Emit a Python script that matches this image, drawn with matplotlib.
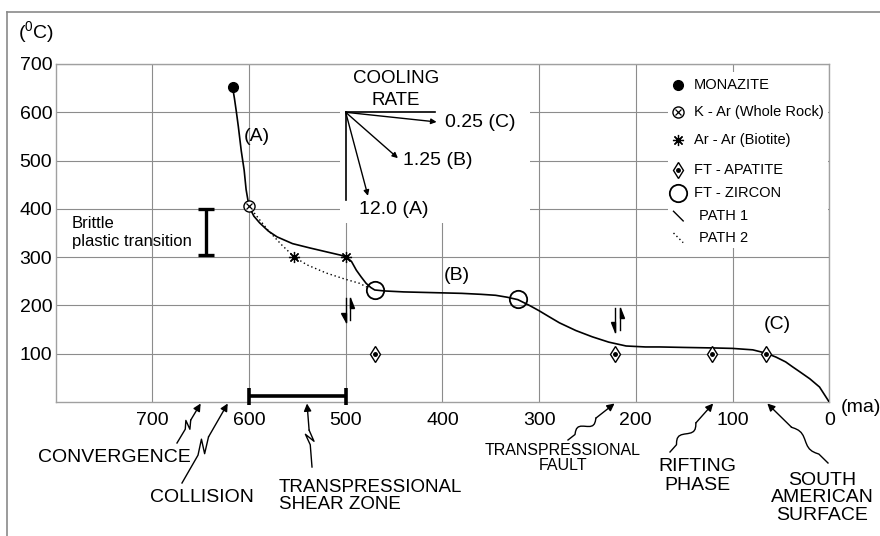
import numpy as np
import matplotlib
matplotlib.use('Agg')
import matplotlib.pyplot as plt
from matplotlib.lines import Line2D
from matplotlib.patches import Rectangle, Polygon

plt.rcParams['font.family'] = ['Liberation Sans', 'DejaVu Sans']
plt.rcParams['mathtext.fontset'] = 'custom'
plt.rcParams['mathtext.rm'] = 'Liberation Sans'
plt.rcParams['mathtext.default'] = 'regular'

# ---- data (age in ma, temperature in degC) ----
x_ticks = [700, 600, 500, 400, 300, 200, 100, 0]
y_ticks = [100, 200, 300, 400, 500, 600, 700]

path1_ma = [617, 615, 613, 611, 608, 605, 603, 600, 595, 589, 580, 571, 555, 537,
            520, 505, 499, 494, 489, 484, 479, 474, 470, 460, 440, 420, 400, 380,
            360, 345, 333, 322, 310, 300, 290, 279, 262, 245, 228, 210, 190, 175,
            150, 121, 100, 79, 65, 55, 45, 38, 30, 20, 10, 0]
path1_temp = [652, 628, 600, 570, 520, 480, 440, 405, 385, 371, 354, 342, 328, 319,
              311, 304, 300, 291, 273, 259, 246, 237, 232, 230, 228, 227, 226, 225,
              223, 221, 217, 212, 200, 189, 177, 164, 148, 135, 124, 116, 114, 114,
              113, 112, 111, 108, 101, 93, 83, 73, 62, 48, 31, 0]

path2_ma = [600, 592, 580, 566, 553, 540, 520, 500, 486, 478]
path2_temp = [405, 385, 355, 325, 300, 284, 267, 254, 246, 238]

monazite_ma = [617]
monazite_temp = [652]
kar_ma = [600]
kar_temp = [405]
arar_ma = [553, 500]
arar_temp = [300, 300]
apatite_ma = [470, 222, 121, 65]
apatite_temp = [100, 100, 100, 100]
zircon_ma = [470, 322]
zircon_temp = [232, 213]

cooling_labels = ['0.25 (C)', '1.25 (B)', '12.0 (A)']
cooling_end_ma = [406, 446, 477]
cooling_end_temp = [580, 505, 427]
cooling_label_ma = [397, 441, 486]
cooling_label_temp = [578, 501, 398]

path_labels = ['(A)', '(B)', '(C)']
path_label_ma = [592, 385, 54]
path_label_temp = [549, 263, 160]

fault_ma = [498, 219]
fault_temp = [190, 170]

events = ['CONVERGENCE', 'COLLISION', 'TRANSPRESSIONAL\nSHEAR ZONE',
          'TRANSPRESSIONAL\nFAULT', 'RIFTING\nPHASE', 'SOUTH\nAMERICAN\nSURFACE']
event_ages = [650, 622, 540, 222, 120, 64]

legend_labels = ['MONAZITE', 'K - Ar (Whole Rock)', 'Ar - Ar (Biotite)',
                 'FT - APATITE', 'FT - ZIRCON', 'PATH 1', 'PATH 2']

W, H = 880, 536
fig = plt.figure(figsize=(W / 100, H / 100), dpi=100)
ax = fig.add_axes([55.6 / W, 134 / H, 773.6 / W, 338 / H])
ax.set_xlim(800, 0)
ax.set_ylim(0, 700)
ax.set_xticks(x_ticks)
ax.set_yticks(y_ticks)
ax.set_xticklabels([str(v) for v in x_ticks])
ax.set_yticklabels([str(v) for v in y_ticks])
ax.tick_params(axis='both', length=0, labelsize=14, colors='black')
ax.tick_params(axis='x', pad=7)
ax.tick_params(axis='y', pad=2.5)
ax.grid(True, color='#8c8c8c', lw=0.8)
ax.set_axisbelow(True)
for sp in ax.spines.values():
    sp.set_color('#a0a0a0')
    sp.set_linewidth(1)

# white boxes behind the cooling-rate sketch and the legend
ax.add_patch(Rectangle((309, 371), 197, 340, facecolor='white', edgecolor='none', zorder=1))
ax.add_patch(Rectangle((1, 319), 166, 364, facecolor='white', edgecolor='none', zorder=1))

# paths
ax.plot(path1_ma, path1_temp, color='black', lw=1.2, zorder=3)
ax.plot(path2_ma, path2_temp, color='black', lw=1, ls=(0, (1, 2)), zorder=3)


def draw_markers(xs, ys, kind, clip=True):
    kw = dict(ls='none', color='black', zorder=4, clip_on=clip)
    if kind == 'monazite':
        ax.plot(xs, ys, marker='o', ms=7, **kw)
    elif kind == 'kar':
        ax.plot(xs, ys, marker='o', ms=8, mfc='white', mew=1, **kw)
        ax.plot(xs, ys, marker='x', ms=4.5, mew=0.9, **kw)
    elif kind == 'arar':
        ax.plot(xs, ys, marker=(8, 2, 0), ms=8, mew=0.9, **kw)
    elif kind == 'apatite':
        ax.plot(xs, ys, marker='d', ms=8, mfc='white', mew=1, **kw)
        ax.plot(xs, ys, marker='o', ms=2.5, **kw)
    elif kind == 'zircon':
        ax.plot(xs, ys, marker='o', ms=12.5, mfc='none', mew=1.3, **kw)


draw_markers(monazite_ma, monazite_temp, 'monazite')
draw_markers(kar_ma, kar_temp, 'kar')
draw_markers(arar_ma, arar_temp, 'arar')
draw_markers(apatite_ma, apatite_temp, 'apatite')
draw_markers(zircon_ma, zircon_temp, 'zircon')

# path labels
for lab, xm, yt in zip(path_labels, path_label_ma, path_label_temp):
    ax.text(xm, yt, lab, fontsize=14, ha='center', va='center', zorder=5)

# cooling rate sketch
ax.plot([500, 408], [600, 600], color='black', lw=1.2, zorder=3)
ax.plot([500, 500], [600, 418], color='black', lw=1.2, zorder=3)
for lab, xe, ye, xl, yl in zip(cooling_labels, cooling_end_ma, cooling_end_temp,
                               cooling_label_ma, cooling_label_temp):
    ax.annotate('', xy=(xe, ye), xytext=(500, 600),
                arrowprops=dict(arrowstyle='-|>', color='black', lw=1,
                                mutation_scale=8, shrinkA=0, shrinkB=0), zorder=3)
    ax.text(xl, yl, lab, fontsize=14, ha='left', va='center', zorder=5)
ax.text(448, 671, 'COOLING', fontsize=13.5, ha='center', va='center')
ax.text(448, 624, 'RATE', fontsize=13.5, ha='center', va='center')

# brittle-plastic transition bar
ax.plot([644.5, 644.5], [305, 399], color='black', lw=2.4, solid_capstyle='butt')
ax.plot([653, 636], [399, 399], color='black', lw=2.4, solid_capstyle='butt')
ax.plot([653, 636], [305, 305], color='black', lw=2.4, solid_capstyle='butt')
ax.text(783, 352, 'Brittle\nplastic transition', fontsize=12, ha='left', va='center',
        linespacing=1.25)

# shear zone bar on the time axis
ax.plot([600, 500], [13, 13], color='black', lw=2.6, clip_on=False, zorder=5,
        solid_capstyle='butt')
for xb in [600, 500]:
    ax.plot([xb, xb], [-6, 29], color='black', lw=2.6, clip_on=False, zorder=5,
            solid_capstyle='butt')


# strike-slip symbols
def fault_symbol(x, y):
    dx, h, head, hw = 2.2, 25, 20, 4.5
    xl, xr = x + dx, x - dx
    ax.plot([xl, xl], [y - h, y + h], color='black', lw=1, zorder=4)
    ax.plot([xr, xr], [y - h + 4, y + h], color='black', lw=1, zorder=4)
    ax.add_patch(Polygon([[xl, y - h], [xl, y - h + head], [xl + hw, y - h + head]],
                         closed=True, color='black', zorder=4))
    ax.add_patch(Polygon([[xr, y + h], [xr, y + h - head], [xr - hw, y + h - head]],
                         closed=True, color='black', zorder=4))


for fx, fy in zip(fault_ma, fault_temp):
    fault_symbol(fx, fy)

# legend (drawn by hand)
leg_mx, leg_tx = 156, 140
leg_y = [657, 600, 543, 481, 433, 385, 340]
draw_markers([leg_mx], [leg_y[0]], 'monazite', clip=False)
draw_markers([leg_mx], [leg_y[1]], 'kar', clip=False)
draw_markers([leg_mx], [leg_y[2]], 'arar', clip=False)
draw_markers([leg_mx], [leg_y[3]], 'apatite', clip=False)
draw_markers([leg_mx], [leg_y[4]], 'zircon', clip=False)
ax.plot([161, 151], [leg_y[5] + 10, leg_y[5] - 10], color='black', lw=1)
ax.plot([161, 151], [leg_y[6] + 10, leg_y[6] - 10], color='black', lw=1, ls=(0, (1, 2)))
for i, lab in enumerate(legend_labels):
    tx = leg_tx if i < 5 else leg_tx - 5
    ax.text(tx, leg_y[i], lab, fontsize=10.5, ha='left', va='center', zorder=5)


# event annotations below the time axis
def px(x, y):
    return np.array([x / W, 1 - y / H])


def squiggle_arrow(start, age, amp, wavy=False):
    tip_disp = ax.transData.transform((age, 0))
    tip = np.array([tip_disp[0] / W, (tip_disp[1] - 1.5) / H])
    s = px(*start)
    d = tip - s
    # work in pixel units for the perpendicular offset
    dp = np.array([d[0] * W, d[1] * H])
    u = dp / np.hypot(*dp)
    n = np.array([-u[1], u[0]])
    off = np.array([n[0] / W, n[1] / H])
    if wavy:
        ts = np.linspace(0.15, 0.6, 12)
        pts = [s] + [s + t * d + off * amp * np.sin((t - 0.15) / 0.45 * 2 * np.pi) for t in ts]
    else:
        pts = [s, s + 0.35 * d, s + 0.52 * d + off * amp, s + 0.40 * d - off * amp,
               s + 0.58 * d]
    pts = np.array(pts)
    fig.add_artist(Line2D(pts[:, 0], pts[:, 1], transform=fig.transFigure,
                          color='black', lw=1))
    ax.annotate('', xy=tip, xytext=pts[-1], xycoords='figure fraction',
                textcoords='figure fraction', annotation_clip=False,
                arrowprops=dict(arrowstyle='-|>', color='black', lw=1,
                                mutation_scale=11, shrinkA=0, shrinkB=0))


arrow_starts = [(177, 443), (182, 483), (312, 467), (568, 440), (670, 452), (828, 463)]
arrow_amp = [4, 5, 4, 4, 4, 3]
arrow_wavy = [False, False, False, True, True, True]
for st, age, amp, wv in zip(arrow_starts, event_ages, arrow_amp, arrow_wavy):
    squiggle_arrow(st, age, amp, wv)

fig.text(*px(114, 457), events[0], fontsize=14, ha='center', va='center')
fig.text(*px(202, 498), events[1], fontsize=14, ha='center', va='center')
fig.text(*px(279, 496), events[2], fontsize=13.5, ha='left', va='center', linespacing=1.05)
fig.text(*px(563, 458), events[3], fontsize=11.5, ha='center', va='center', linespacing=1.05)
fig.text(*px(697, 476), events[4], fontsize=14, ha='center', va='center', linespacing=1.1)
fig.text(*px(822, 498), events[5], fontsize=14, ha='center', va='center', linespacing=1.05)

# axis unit labels
fig.text(*px(18, 32), r'($^0$C)', fontsize=14, ha='left', va='center')
fig.text(*px(841, 408), '(ma)', fontsize=14, ha='left', va='center')

# figure frame
fig.add_artist(Line2D([7 / W, 7 / W], [0, 1 - 12 / H], transform=fig.transFigure,
                      color='#8a8a8a', lw=1.2))
fig.add_artist(Line2D([7 / W, 1], [1 - 12 / H, 1 - 12 / H], transform=fig.transFigure,
                      color='#8a8a8a', lw=1.2))

fig.savefig('out.png', dpi=100)
